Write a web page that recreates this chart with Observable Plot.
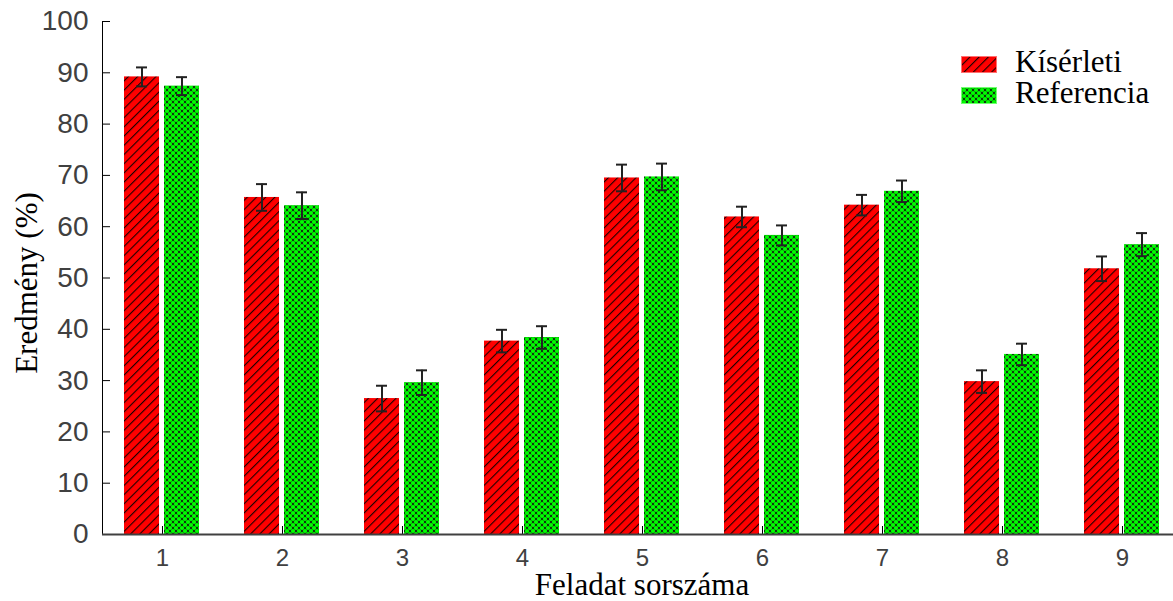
<!DOCTYPE html>
<html><head><meta charset="utf-8">
<script src="https://cdn.jsdelivr.net/npm/d3@7"></script>
<script src="https://cdn.jsdelivr.net/npm/@observablehq/plot@0.6"></script>
<style>
html,body{margin:0;padding:0;background:#fff;overflow:hidden;}
#wrap{position:relative;width:1173px;height:601px;overflow:hidden;}
#chart{position:absolute;left:0;top:0;width:1190px;}
#chart svg{max-width:none !important;}
.lbl{position:absolute;font-family:"Liberation Serif",serif;font-size:31px;color:#000;white-space:nowrap;line-height:0.85;}
#ylab{left:27px;top:283px;transform:translate(-50%,-50%) rotate(-90deg);}
#xlab{left:642px;top:573px;line-height:0.75;transform:translateX(-50%);}
#leg{left:1015px;top:46px;line-height:31px;}
.sw{position:absolute;left:961px;width:36px;height:17px;}
g[aria-label="y-axis tick label"]{font:28px "Liberation Sans",sans-serif;fill:#404040;}
g[aria-label="fx-axis tick label"]{font:24px "Liberation Sans",sans-serif;fill:#404040;}
</style></head><body>
<div id="wrap">
<div id="chart"></div>
<div class="lbl" id="xlab">Feladat sorszáma</div>
<div class="lbl" id="ylab">Eredmény (%)</div>
<svg class="sw" style="top:56px" width="36" height="17"><rect x="0.5" y="0.5" width="35" height="16" fill="url(#hatchRed)" stroke="#ff7070" stroke-width="1"/></svg>
<svg class="sw" style="top:87px" width="36" height="17"><rect x="0.5" y="0.5" width="35" height="16" fill="url(#dotsGreen)" stroke="#70ff70" stroke-width="1"/></svg>
<div class="lbl" id="leg"></div>
</div>
<script>
const tasks = [1, 2, 3, 4, 5, 6, 7, 8, 9];
const series = ["Kísérleti", "Referencia"];
const kiserleti = [89.2, 65.7, 26.5, 37.7, 69.5, 61.9, 64.2, 29.8, 51.8];
const kiserletiErr = [1.85, 2.6, 2.5, 2.2, 2.6, 2.0, 2.0, 2.2, 2.4];
const referencia = [87.4, 64.1, 29.6, 38.4, 69.7, 58.3, 66.9, 35.1, 56.5];
const referenciaErr = [1.75, 2.6, 2.4, 2.2, 2.6, 1.95, 2.1, 2.1, 2.25];
const yTicks = [0, 10, 20, 30, 40, 50, 60, 70, 80, 90, 100];

const rows = tasks.flatMap((t, i) => [
  {task: t, series: series[0], value: kiserleti[i], err: kiserletiErr[i]},
  {task: t, series: series[1], value: referencia[i], err: referenciaErr[i]}
]);

const leg = document.getElementById("leg");
series.forEach((s, i) => {
  if (i) leg.appendChild(document.createElement("br"));
  leg.appendChild(document.createTextNode(s));
});

const plot = Plot.plot({
  width: 1190, height: 601,
  marginLeft: 100, marginRight: 6, marginTop: 21, marginBottom: 67,
  style: {background: "transparent", overflow: "visible"},
  fx: {domain: tasks, padding: 0, label: null, tickSize: -8, tickPadding: 22},
  x: {domain: series, paddingInner: 0.122, paddingOuter: 0.529, axis: null},
  y: {domain: [0, 100], ticks: yTicks, label: null, line: true, tickSize: -8, tickPadding: 22},
  color: {domain: series, range: ["url(#hatchRed)", "url(#dotsGreen)"]},
  marks: [
    Plot.barY(rows, {fx: "task", x: "series", y: "value", fill: "series"}),
    Plot.ruleY([0], {stroke: "#404040", strokeWidth: 2}),
    Plot.ruleX(rows, {fx: "task", x: "series", y1: d => d.value - d.err, y2: d => d.value + d.err, stroke: "#222", strokeWidth: 2}),
    Plot.tickY(rows, {fx: "task", x: "series", y: d => d.value + d.err, insetLeft: 12, insetRight: 12, stroke: "#222", strokeWidth: 2}),
    Plot.tickY(rows, {fx: "task", x: "series", y: d => d.value - d.err, insetLeft: 12, insetRight: 12, stroke: "#222", strokeWidth: 2})
  ]
});

const svg = d3.select(plot);
const defs = svg.insert("defs", ":first-child");
const pr = defs.append("pattern").attr("id", "hatchRed").attr("patternUnits", "userSpaceOnUse")
  .attr("width", 6.5).attr("height", 6.5).attr("patternTransform", "rotate(45)");
pr.append("rect").attr("width", 6.5).attr("height", 6.5).attr("fill", "#ff0000");
pr.append("line").attr("x1", 0).attr("y1", 0).attr("x2", 0).attr("y2", 6.5).attr("stroke", "#1a0000").attr("stroke-width", 2.2);
const pg = defs.append("pattern").attr("id", "dotsGreen").attr("patternUnits", "userSpaceOnUse")
  .attr("width", 6).attr("height", 6);
pg.append("rect").attr("width", 6).attr("height", 6).attr("fill", "#103010");
[[0,0],[6,0],[0,6],[6,6],[3,3]].forEach(([cx, cy]) =>
  pg.append("circle").attr("cx", cx).attr("cy", cy).attr("r", 2.1).attr("fill", "#00ff00"));

document.getElementById("chart").append(plot);
</script>
</body></html>
